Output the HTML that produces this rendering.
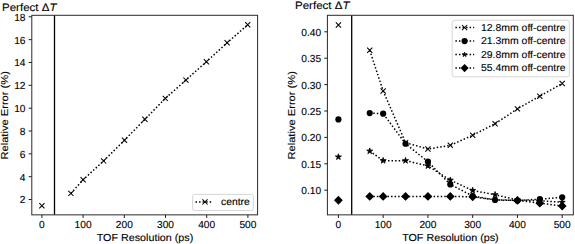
<!DOCTYPE html>
<html><head><meta charset="utf-8"><title>Perfect ΔT – Relative Error vs TOF Resolution</title>
<style>
html,body{margin:0;padding:0;background:#fff;}
body{width:575px;height:244px;overflow:hidden;}
svg{display:block;font-family:"Liberation Sans",sans-serif;fill:#000;text-rendering:geometricPrecision;}
text{stroke:#000;stroke-width:0.12px;}
</style></head>
<body>
<svg width="575" height="244" viewBox="0 0 575 244">
<rect width="575" height="244" fill="#fff"/>
<line x1="41.90" y1="214.85" x2="41.90" y2="217.95" stroke="#000" stroke-width="0.9"/>
<text x="41.90" y="228.3" font-size="10.2" text-anchor="middle">0</text>
<line x1="83.10" y1="214.85" x2="83.10" y2="217.95" stroke="#000" stroke-width="0.9"/>
<text x="83.10" y="228.3" font-size="10.2" text-anchor="middle">100</text>
<line x1="124.30" y1="214.85" x2="124.30" y2="217.95" stroke="#000" stroke-width="0.9"/>
<text x="124.30" y="228.3" font-size="10.2" text-anchor="middle">200</text>
<line x1="165.50" y1="214.85" x2="165.50" y2="217.95" stroke="#000" stroke-width="0.9"/>
<text x="165.50" y="228.3" font-size="10.2" text-anchor="middle">300</text>
<line x1="206.70" y1="214.85" x2="206.70" y2="217.95" stroke="#000" stroke-width="0.9"/>
<text x="206.70" y="228.3" font-size="10.2" text-anchor="middle">400</text>
<line x1="247.90" y1="214.85" x2="247.90" y2="217.95" stroke="#000" stroke-width="0.9"/>
<text x="247.90" y="228.3" font-size="10.2" text-anchor="middle">500</text>
<line x1="28.70" y1="199.52" x2="31.80" y2="199.52" stroke="#000" stroke-width="0.9"/>
<text x="25.50" y="203.42" font-size="10.2" text-anchor="end">2</text>
<line x1="28.70" y1="176.68" x2="31.80" y2="176.68" stroke="#000" stroke-width="0.9"/>
<text x="25.50" y="180.58" font-size="10.2" text-anchor="end">4</text>
<line x1="28.70" y1="153.84" x2="31.80" y2="153.84" stroke="#000" stroke-width="0.9"/>
<text x="25.50" y="157.74" font-size="10.2" text-anchor="end">6</text>
<line x1="28.70" y1="131.00" x2="31.80" y2="131.00" stroke="#000" stroke-width="0.9"/>
<text x="25.50" y="134.90" font-size="10.2" text-anchor="end">8</text>
<line x1="28.70" y1="108.16" x2="31.80" y2="108.16" stroke="#000" stroke-width="0.9"/>
<text x="25.50" y="112.06" font-size="10.2" text-anchor="end">10</text>
<line x1="28.70" y1="85.32" x2="31.80" y2="85.32" stroke="#000" stroke-width="0.9"/>
<text x="25.50" y="89.22" font-size="10.2" text-anchor="end">12</text>
<line x1="28.70" y1="62.48" x2="31.80" y2="62.48" stroke="#000" stroke-width="0.9"/>
<text x="25.50" y="66.38" font-size="10.2" text-anchor="end">14</text>
<line x1="28.70" y1="39.64" x2="31.80" y2="39.64" stroke="#000" stroke-width="0.9"/>
<text x="25.50" y="43.54" font-size="10.2" text-anchor="end">16</text>
<line x1="28.70" y1="16.80" x2="31.80" y2="16.80" stroke="#000" stroke-width="0.9"/>
<text x="25.50" y="20.70" font-size="10.2" text-anchor="end">18</text>
<line x1="54.5" y1="15.3" x2="54.5" y2="214.85" stroke="#000" stroke-width="1.3"/>
<path d="M70.90,193.40L83.10,179.80L103.60,160.90L124.50,140.20L144.90,119.30L165.30,98.40L185.90,80.10L206.40,61.70L227.10,42.80L247.70,24.80" fill="none" stroke="#000" stroke-width="1.5" stroke-dasharray="1.5,2.05"/>
<path d="M68.30,190.80L73.50,196.00M68.30,196.00L73.50,190.80" stroke="#000" stroke-width="1.05" fill="none"/>
<path d="M80.50,177.20L85.70,182.40M80.50,182.40L85.70,177.20" stroke="#000" stroke-width="1.05" fill="none"/>
<path d="M101.00,158.30L106.20,163.50M101.00,163.50L106.20,158.30" stroke="#000" stroke-width="1.05" fill="none"/>
<path d="M121.90,137.60L127.10,142.80M121.90,142.80L127.10,137.60" stroke="#000" stroke-width="1.05" fill="none"/>
<path d="M142.30,116.70L147.50,121.90M142.30,121.90L147.50,116.70" stroke="#000" stroke-width="1.05" fill="none"/>
<path d="M162.70,95.80L167.90,101.00M162.70,101.00L167.90,95.80" stroke="#000" stroke-width="1.05" fill="none"/>
<path d="M183.30,77.50L188.50,82.70M183.30,82.70L188.50,77.50" stroke="#000" stroke-width="1.05" fill="none"/>
<path d="M203.80,59.10L209.00,64.30M203.80,64.30L209.00,59.10" stroke="#000" stroke-width="1.05" fill="none"/>
<path d="M224.50,40.20L229.70,45.40M224.50,45.40L229.70,40.20" stroke="#000" stroke-width="1.05" fill="none"/>
<path d="M245.10,22.20L250.30,27.40M245.10,27.40L250.30,22.20" stroke="#000" stroke-width="1.05" fill="none"/>
<path d="M39.30,203.10L44.50,208.30M39.30,208.30L44.50,203.10" stroke="#000" stroke-width="1.05" fill="none"/>
<rect x="192.6" y="194.4" width="60.8" height="16.1" rx="2" ry="2" fill="#fff" fill-opacity="0.8" stroke="#ccc" stroke-width="0.8"/>
<path d="M195.50,201.90L212.50,201.90" fill="none" stroke="#000" stroke-width="1.5" stroke-dasharray="1.5,2.05"/>
<path d="M202.40,199.30L207.60,204.50M202.40,204.50L207.60,199.30" stroke="#000" stroke-width="1.05" fill="none"/>
<text x="221.0" y="205.0" font-size="10.0" text-anchor="start" textLength="28.8" lengthAdjust="spacingAndGlyphs">centre</text>
<rect x="31.8" y="15.3" width="225.80" height="199.55" fill="none" stroke="#2a2a2a" stroke-width="1.0"/>
<text x="145.0" y="241.3" font-size="10.2" text-anchor="middle" textLength="96.5" lengthAdjust="spacingAndGlyphs">TOF Resolution (ps)</text>
<text x="0" y="0" font-size="10" text-anchor="middle" textLength="88.5" lengthAdjust="spacingAndGlyphs" transform="translate(8.3,115.3) rotate(-90)">Relative Error (%)</text>
<text x="2.0" y="10.8" font-size="10.8" textLength="54.5" lengthAdjust="spacingAndGlyphs">Perfect Δ<tspan font-style="italic">T</tspan></text>
<line x1="338.40" y1="214.85" x2="338.40" y2="217.95" stroke="#000" stroke-width="0.9"/>
<text x="338.40" y="228.3" font-size="10.2" text-anchor="middle">0</text>
<line x1="383.16" y1="214.85" x2="383.16" y2="217.95" stroke="#000" stroke-width="0.9"/>
<text x="383.16" y="228.3" font-size="10.2" text-anchor="middle">100</text>
<line x1="427.92" y1="214.85" x2="427.92" y2="217.95" stroke="#000" stroke-width="0.9"/>
<text x="427.92" y="228.3" font-size="10.2" text-anchor="middle">200</text>
<line x1="472.68" y1="214.85" x2="472.68" y2="217.95" stroke="#000" stroke-width="0.9"/>
<text x="472.68" y="228.3" font-size="10.2" text-anchor="middle">300</text>
<line x1="517.44" y1="214.85" x2="517.44" y2="217.95" stroke="#000" stroke-width="0.9"/>
<text x="517.44" y="228.3" font-size="10.2" text-anchor="middle">400</text>
<line x1="562.20" y1="214.85" x2="562.20" y2="217.95" stroke="#000" stroke-width="0.9"/>
<text x="562.20" y="228.3" font-size="10.2" text-anchor="middle">500</text>
<line x1="324.30" y1="190.20" x2="327.40" y2="190.20" stroke="#000" stroke-width="0.9"/>
<text x="321.10" y="194.10" font-size="10.2" text-anchor="end">0.10</text>
<line x1="324.30" y1="163.80" x2="327.40" y2="163.80" stroke="#000" stroke-width="0.9"/>
<text x="321.10" y="167.70" font-size="10.2" text-anchor="end">0.15</text>
<line x1="324.30" y1="137.40" x2="327.40" y2="137.40" stroke="#000" stroke-width="0.9"/>
<text x="321.10" y="141.30" font-size="10.2" text-anchor="end">0.20</text>
<line x1="324.30" y1="111.00" x2="327.40" y2="111.00" stroke="#000" stroke-width="0.9"/>
<text x="321.10" y="114.90" font-size="10.2" text-anchor="end">0.25</text>
<line x1="324.30" y1="84.60" x2="327.40" y2="84.60" stroke="#000" stroke-width="0.9"/>
<text x="321.10" y="88.50" font-size="10.2" text-anchor="end">0.30</text>
<line x1="324.30" y1="58.20" x2="327.40" y2="58.20" stroke="#000" stroke-width="0.9"/>
<text x="321.10" y="62.10" font-size="10.2" text-anchor="end">0.35</text>
<line x1="324.30" y1="31.80" x2="327.40" y2="31.80" stroke="#000" stroke-width="0.9"/>
<text x="321.10" y="35.70" font-size="10.2" text-anchor="end">0.40</text>
<line x1="351.7" y1="15.3" x2="351.7" y2="214.85" stroke="#000" stroke-width="1.3"/>
<path d="M369.73,50.28L383.16,90.94L405.54,142.68L427.92,149.02L450.30,145.32L472.68,135.29L495.06,123.67L517.44,108.89L539.82,96.22L562.20,83.54" fill="none" stroke="#000" stroke-width="1.5" stroke-dasharray="1.5,2.05"/>
<path d="M367.13,47.68L372.33,52.88M367.13,52.88L372.33,47.68" stroke="#000" stroke-width="1.05" fill="none"/>
<path d="M380.56,88.34L385.76,93.54M380.56,93.54L385.76,88.34" stroke="#000" stroke-width="1.05" fill="none"/>
<path d="M402.94,140.08L408.14,145.28M402.94,145.28L408.14,140.08" stroke="#000" stroke-width="1.05" fill="none"/>
<path d="M425.32,146.42L430.52,151.62M425.32,151.62L430.52,146.42" stroke="#000" stroke-width="1.05" fill="none"/>
<path d="M447.70,142.72L452.90,147.92M447.70,147.92L452.90,142.72" stroke="#000" stroke-width="1.05" fill="none"/>
<path d="M470.08,132.69L475.28,137.89M470.08,137.89L475.28,132.69" stroke="#000" stroke-width="1.05" fill="none"/>
<path d="M492.46,121.07L497.66,126.27M492.46,126.27L497.66,121.07" stroke="#000" stroke-width="1.05" fill="none"/>
<path d="M514.84,106.29L520.04,111.49M514.84,111.49L520.04,106.29" stroke="#000" stroke-width="1.05" fill="none"/>
<path d="M537.22,93.62L542.42,98.82M537.22,98.82L542.42,93.62" stroke="#000" stroke-width="1.05" fill="none"/>
<path d="M559.60,80.94L564.80,86.14M559.60,86.14L564.80,80.94" stroke="#000" stroke-width="1.05" fill="none"/>
<path d="M335.80,22.34L341.00,27.54M335.80,27.54L341.00,22.34" stroke="#000" stroke-width="1.05" fill="none"/>
<path d="M369.73,113.11L383.16,113.64L405.54,143.74L427.92,161.69L450.30,184.39L472.68,196.01L495.06,199.97L517.44,200.50L539.82,199.18L562.20,197.33" fill="none" stroke="#000" stroke-width="1.5" stroke-dasharray="1.5,2.05"/>
<circle cx="369.73" cy="113.11" r="3.10" fill="#000"/>
<circle cx="383.16" cy="113.64" r="3.10" fill="#000"/>
<circle cx="405.54" cy="143.74" r="3.10" fill="#000"/>
<circle cx="427.92" cy="161.69" r="3.10" fill="#000"/>
<circle cx="450.30" cy="184.39" r="3.10" fill="#000"/>
<circle cx="472.68" cy="196.01" r="3.10" fill="#000"/>
<circle cx="495.06" cy="199.97" r="3.10" fill="#000"/>
<circle cx="517.44" cy="200.50" r="3.10" fill="#000"/>
<circle cx="539.82" cy="199.18" r="3.10" fill="#000"/>
<circle cx="562.20" cy="197.33" r="3.10" fill="#000"/>
<circle cx="338.40" cy="119.45" r="3.10" fill="#000"/>
<path d="M369.73,151.13L383.16,160.63L405.54,160.63L427.92,165.91L450.30,180.17L472.68,190.46L495.06,194.69L517.44,199.97L539.82,200.76L562.20,202.34" fill="none" stroke="#000" stroke-width="1.5" stroke-dasharray="1.5,2.05"/>
<polygon points="369.73,147.93 370.45,150.14 372.78,150.14 370.89,151.50 371.61,153.72 369.73,152.34 367.85,153.72 368.58,151.50 366.69,150.14 369.02,150.14" fill="#000" stroke="#000" stroke-width="0.80" stroke-linejoin="miter"/>
<polygon points="383.16,157.43 383.87,159.65 386.20,159.64 384.32,161.01 385.04,163.22 383.16,161.85 381.28,163.22 382.00,161.01 380.12,159.64 382.45,159.65" fill="#000" stroke="#000" stroke-width="0.80" stroke-linejoin="miter"/>
<polygon points="405.54,157.43 406.25,159.65 408.58,159.64 406.70,161.01 407.42,163.22 405.54,161.85 403.66,163.22 404.38,161.01 402.50,159.64 404.83,159.65" fill="#000" stroke="#000" stroke-width="0.80" stroke-linejoin="miter"/>
<polygon points="427.92,162.71 428.63,164.93 430.96,164.92 429.08,166.29 429.80,168.50 427.92,167.13 426.04,168.50 426.76,166.29 424.88,164.92 427.21,164.93" fill="#000" stroke="#000" stroke-width="0.80" stroke-linejoin="miter"/>
<polygon points="450.30,176.97 451.01,179.18 453.34,179.18 451.46,180.54 452.18,182.76 450.30,181.38 448.42,182.76 449.14,180.54 447.26,179.18 449.59,179.18" fill="#000" stroke="#000" stroke-width="0.80" stroke-linejoin="miter"/>
<polygon points="472.68,187.26 473.39,189.48 475.72,189.48 473.84,190.84 474.56,193.05 472.68,191.68 470.80,193.05 471.52,190.84 469.64,189.48 471.97,189.48" fill="#000" stroke="#000" stroke-width="0.80" stroke-linejoin="miter"/>
<polygon points="495.06,191.49 495.77,193.70 498.10,193.70 496.22,195.06 496.94,197.28 495.06,195.90 493.18,197.28 493.90,195.06 492.02,193.70 494.35,193.70" fill="#000" stroke="#000" stroke-width="0.80" stroke-linejoin="miter"/>
<polygon points="517.44,196.77 518.15,198.98 520.48,198.98 518.60,200.34 519.32,202.56 517.44,201.18 515.56,202.56 516.28,200.34 514.40,198.98 516.73,198.98" fill="#000" stroke="#000" stroke-width="0.80" stroke-linejoin="miter"/>
<polygon points="539.82,197.56 540.53,199.78 542.86,199.77 540.98,201.14 541.70,203.35 539.82,201.98 537.94,203.35 538.66,201.14 536.78,199.77 539.11,199.78" fill="#000" stroke="#000" stroke-width="0.80" stroke-linejoin="miter"/>
<polygon points="562.20,199.14 562.91,201.36 565.24,201.36 563.36,202.72 564.08,204.93 562.20,203.56 560.32,204.93 561.04,202.72 559.16,201.36 561.49,201.36" fill="#000" stroke="#000" stroke-width="0.80" stroke-linejoin="miter"/>
<polygon points="338.40,153.74 339.11,155.95 341.44,155.95 339.56,157.31 340.28,159.52 338.40,158.15 336.52,159.52 337.24,157.31 335.36,155.95 337.69,155.95" fill="#000" stroke="#000" stroke-width="0.80" stroke-linejoin="miter"/>
<path d="M369.73,196.38L383.16,196.38L405.54,196.38L427.92,196.38L450.30,196.38L472.68,196.80L495.06,199.81L517.44,200.39L539.82,203.14L562.20,206.04" fill="none" stroke="#000" stroke-width="1.5" stroke-dasharray="1.5,2.05"/>
<polygon points="369.73,191.98 374.13,196.38 369.73,200.78 365.33,196.38" fill="#000"/>
<polygon points="383.16,191.98 387.56,196.38 383.16,200.78 378.76,196.38" fill="#000"/>
<polygon points="405.54,191.98 409.94,196.38 405.54,200.78 401.14,196.38" fill="#000"/>
<polygon points="427.92,191.98 432.32,196.38 427.92,200.78 423.52,196.38" fill="#000"/>
<polygon points="450.30,191.98 454.70,196.38 450.30,200.78 445.90,196.38" fill="#000"/>
<polygon points="472.68,192.40 477.08,196.80 472.68,201.20 468.28,196.80" fill="#000"/>
<polygon points="517.44,195.99 521.84,200.39 517.44,204.79 513.04,200.39" fill="#000"/>
<polygon points="539.82,198.74 544.22,203.14 539.82,207.54 535.42,203.14" fill="#000"/>
<polygon points="562.20,201.64 566.60,206.04 562.20,210.44 557.80,206.04" fill="#000"/>
<polygon points="338.40,195.83 342.80,200.23 338.40,204.63 334.00,200.23" fill="#000"/>
<rect x="452.2" y="20.2" width="117.1" height="56.6" rx="2" ry="2" fill="#fff" fill-opacity="0.8" stroke="#ccc" stroke-width="0.8"/>
<path d="M455.40,27.60L474.20,27.60" fill="none" stroke="#000" stroke-width="1.5" stroke-dasharray="1.5,2.05"/>
<path d="M462.00,25.00L467.20,30.20M462.00,30.20L467.20,25.00" stroke="#000" stroke-width="1.05" fill="none"/>
<text x="481.0" y="30.80" font-size="10.0" text-anchor="start" textLength="84.5" lengthAdjust="spacingAndGlyphs">12.8mm off-centre</text>
<path d="M455.40,41.10L474.20,41.10" fill="none" stroke="#000" stroke-width="1.5" stroke-dasharray="1.5,2.05"/>
<circle cx="464.60" cy="41.10" r="3.10" fill="#000"/>
<text x="481.0" y="44.30" font-size="10.0" text-anchor="start" textLength="84.5" lengthAdjust="spacingAndGlyphs">21.3mm off-centre</text>
<path d="M455.40,54.60L474.20,54.60" fill="none" stroke="#000" stroke-width="1.5" stroke-dasharray="1.5,2.05"/>
<polygon points="464.60,52.04 465.17,53.81 467.03,53.81 465.53,54.90 466.10,56.67 464.60,55.57 463.10,56.67 463.67,54.90 462.17,53.81 464.03,53.81" fill="#000" stroke="#000" stroke-width="0.64" stroke-linejoin="miter"/>
<text x="481.0" y="57.80" font-size="10.0" text-anchor="start" textLength="84.5" lengthAdjust="spacingAndGlyphs">29.8mm off-centre</text>
<path d="M455.40,68.10L474.20,68.10" fill="none" stroke="#000" stroke-width="1.5" stroke-dasharray="1.5,2.05"/>
<polygon points="464.60,64.05 468.65,68.10 464.60,72.15 460.55,68.10" fill="#000"/>
<text x="481.0" y="71.30" font-size="10.0" text-anchor="start" textLength="84.5" lengthAdjust="spacingAndGlyphs">55.4mm off-centre</text>
<rect x="327.4" y="15.3" width="245.90" height="199.55" fill="none" stroke="#2a2a2a" stroke-width="1.0"/>
<text x="450.4" y="241.3" font-size="10.2" text-anchor="middle" textLength="96.5" lengthAdjust="spacingAndGlyphs">TOF Resolution (ps)</text>
<text x="0" y="0" font-size="10" text-anchor="middle" textLength="88.5" lengthAdjust="spacingAndGlyphs" transform="translate(295.3,115.3) rotate(-90)">Relative Error (%)</text>
<text x="295.0" y="9.4" font-size="10.8" textLength="54.5" lengthAdjust="spacingAndGlyphs">Perfect Δ<tspan font-style="italic">T</tspan></text>
</svg>
</body></html>
